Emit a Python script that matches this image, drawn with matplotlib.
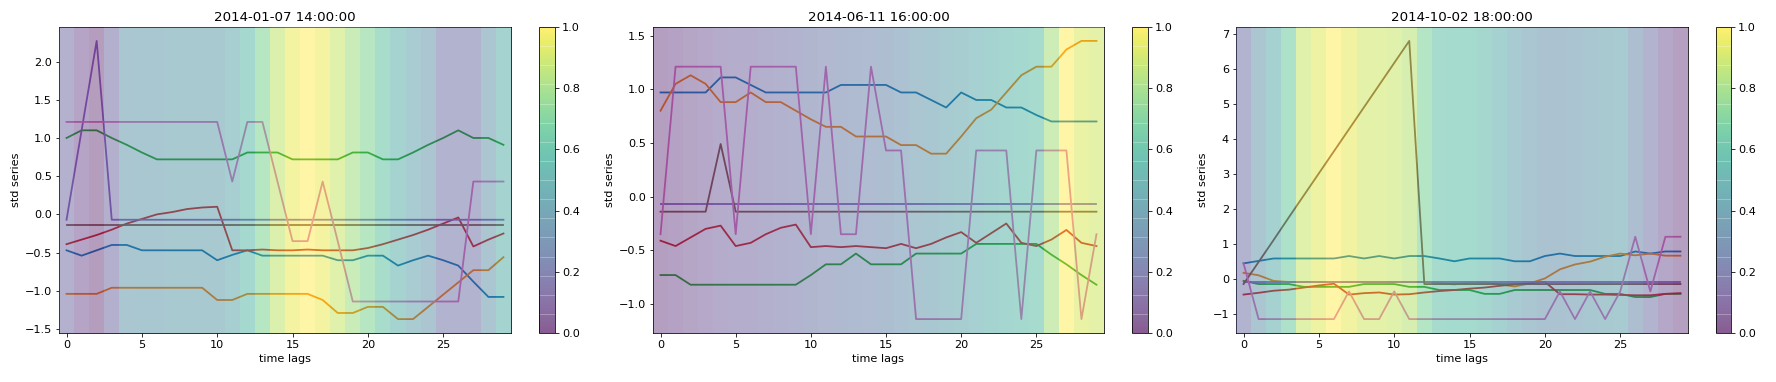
import numpy as np
import matplotlib.pyplot as plt

W, H = 1776, 382
DPI = 72

plt.rcParams['font.size'] = 11.2
plt.rcParams['lines.linewidth'] = 1.8

lags = list(range(30))
titles = ["2014-01-07 14:00:00", "2014-06-11 16:00:00", "2014-10-02 18:00:00"]

# --- panel 1: 2014-01-07 14:00 ---
blue1 = [-0.47, -0.54, -0.47, -0.40, -0.40, -0.47, -0.47, -0.47, -0.47, -0.47,
         -0.60, -0.53, -0.47, -0.54, -0.54, -0.54, -0.54, -0.54, -0.60, -0.60,
         -0.54, -0.54, -0.67, -0.60, -0.54, -0.60, -0.67, -0.88, -1.08, -1.08]
orange1 = [-1.04, -1.04, -1.04, -0.96, -0.96, -0.96, -0.96, -0.96, -0.96, -0.96,
           -1.12, -1.12, -1.04, -1.04, -1.04, -1.04, -1.04, -1.12, -1.29, -1.29,
           -1.21, -1.21, -1.37, -1.37, -1.21, -1.05, -0.89, -0.73, -0.73, -0.56]
green1 = [1.00, 1.10, 1.10, 1.00, 0.91, 0.81, 0.72, 0.72, 0.72, 0.72,
          0.72, 0.72, 0.81, 0.81, 0.81, 0.72, 0.72, 0.72, 0.72, 0.81,
          0.81, 0.72, 0.72, 0.81, 0.91, 1.00, 1.10, 1.00, 1.00, 0.91]
red1 = [-0.39, -0.33, -0.27, -0.20, -0.12, -0.06, 0.00, 0.03, 0.07, 0.09,
        0.10, -0.47, -0.47, -0.46, -0.47, -0.47, -0.46, -0.47, -0.47, -0.47,
        -0.44, -0.39, -0.33, -0.27, -0.20, -0.12, -0.04, -0.42, -0.33, -0.25]
purple1 = [-0.07, 1.10, 2.27, -0.07, -0.07, -0.07, -0.07, -0.07, -0.07, -0.07,
           -0.07, -0.07, -0.07, -0.07, -0.07, -0.07, -0.07, -0.07, -0.07, -0.07,
           -0.07, -0.07, -0.07, -0.07, -0.07, -0.07, -0.07, -0.07, -0.07, -0.07]
brown1 = [-0.14] * 30
pink1 = [1.21, 1.21, 1.21, 1.21, 1.21, 1.21, 1.21, 1.21, 1.21, 1.21,
         1.21, 0.43, 1.21, 1.21, 0.43, -0.35, -0.35, 0.43, -0.35, -1.14,
         -1.14, -1.14, -1.14, -1.14, -1.14, -1.14, -1.14, 0.43, 0.43, 0.43]
weights1 = [0.18, 0.08, 0.03, 0.17, 0.38, 0.39, 0.39, 0.40, 0.40, 0.40,
            0.41, 0.47, 0.57, 0.72, 0.87, 0.96, 1.00, 0.96, 0.88, 0.80,
            0.72, 0.62, 0.52, 0.44, 0.36, 0.21, 0.21, 0.21, 0.36, 0.52]

# --- panel 2: 2014-06-11 16:00 ---
blue2 = [0.97, 0.97, 0.97, 0.97, 1.11, 1.11, 1.04, 0.97, 0.97, 0.97,
         0.97, 0.97, 1.04, 1.04, 1.04, 1.04, 0.97, 0.97, 0.90, 0.83,
         0.97, 0.90, 0.90, 0.83, 0.83, 0.76, 0.70, 0.70, 0.70, 0.70]
orange2 = [0.80, 1.05, 1.13, 1.05, 0.88, 0.88, 0.97, 0.88, 0.88, 0.80,
           0.72, 0.65, 0.65, 0.56, 0.56, 0.56, 0.48, 0.48, 0.40, 0.40,
           0.56, 0.73, 0.81, 0.97, 1.13, 1.21, 1.21, 1.37, 1.45, 1.45]
green2 = [-0.73, -0.73, -0.82, -0.82, -0.82, -0.82, -0.82, -0.82, -0.82, -0.82,
          -0.73, -0.63, -0.63, -0.53, -0.63, -0.63, -0.63, -0.53, -0.53, -0.53,
          -0.53, -0.44, -0.44, -0.44, -0.44, -0.44, -0.54, -0.63, -0.73, -0.82]
red2 = [-0.41, -0.46, -0.38, -0.30, -0.27, -0.46, -0.43, -0.35, -0.29, -0.26,
        -0.47, -0.46, -0.47, -0.46, -0.47, -0.48, -0.44, -0.48, -0.44, -0.38,
        -0.33, -0.43, -0.34, -0.25, -0.43, -0.46, -0.40, -0.31, -0.43, -0.46]
purple2 = [-0.07] * 30
brown2 = [-0.14, -0.14, -0.14, -0.14, 0.49, -0.14, -0.14, -0.14, -0.14, -0.14,
          -0.14, -0.14, -0.14, -0.14, -0.14, -0.14, -0.14, -0.14, -0.14, -0.14,
          -0.14, -0.14, -0.14, -0.14, -0.14, -0.14, -0.14, -0.14, -0.14, -0.14]
pink2 = [-0.35, 1.21, 1.21, 1.21, 1.21, -0.35, 1.21, 1.21, 1.21, 1.21,
         -0.35, 1.21, -0.35, -0.35, 1.21, 0.43, 0.43, -1.14, -1.14, -1.14,
         -1.14, 0.43, 0.43, 0.43, -1.14, 0.43, 0.43, 0.43, -1.14, -0.35]
weights2 = [0.04, 0.06, 0.09, 0.11, 0.14, 0.15, 0.16, 0.17, 0.19, 0.20,
            0.22, 0.24, 0.26, 0.27, 0.28, 0.30, 0.33, 0.36, 0.39, 0.42,
            0.45, 0.48, 0.52, 0.54, 0.57, 0.60, 0.82, 1.00, 0.92, 0.90]

# --- panel 3: 2014-10-02 18:00 ---
blue3 = [0.45, 0.52, 0.59, 0.59, 0.59, 0.59, 0.59, 0.66, 0.59, 0.66,
         0.59, 0.66, 0.66, 0.59, 0.51, 0.59, 0.59, 0.59, 0.51, 0.51,
         0.66, 0.73, 0.66, 0.66, 0.66, 0.66, 0.79, 0.73, 0.79, 0.79]
orange3 = [0.18, 0.11, -0.05, -0.08, -0.08, -0.08, -0.08, -0.08, -0.08, -0.08,
           -0.08, -0.08, -0.08, -0.11, -0.15, -0.10, -0.10, -0.15, -0.21, -0.12,
           0.02, 0.28, 0.42, 0.50, 0.64, 0.73, 0.68, 0.73, 0.67, 0.67]
green3 = [-0.05, -0.14, -0.14, -0.14, -0.22, -0.22, -0.22, -0.22, -0.14, -0.14,
          -0.14, -0.22, -0.22, -0.31, -0.31, -0.31, -0.42, -0.42, -0.31, -0.31,
          -0.31, -0.31, -0.31, -0.31, -0.42, -0.42, -0.51, -0.51, -0.42, -0.42]
red3 = [-0.44, -0.39, -0.33, -0.30, -0.24, -0.18, -0.13, -0.44, -0.40, -0.38,
        -0.44, -0.43, -0.38, -0.34, -0.31, -0.27, -0.24, -0.19, -0.15, -0.12,
        -0.08, -0.43, -0.43, -0.44, -0.44, -0.45, -0.46, -0.46, -0.42, -0.40]
purple3 = [-0.07] * 30
brown3 = [-0.14, 0.49, 1.12, 1.76, 2.39, 3.02, 3.65, 4.28, 4.91, 5.54,
          6.17, 6.80, -0.14, -0.14, -0.14, -0.14, -0.14, -0.14, -0.14, -0.14,
          -0.14, -0.14, -0.14, -0.14, -0.14, -0.14, -0.14, -0.14, -0.14, -0.14]
pink3 = [0.45, -1.14, -1.14, -1.14, -1.14, -1.14, -1.14, -0.35, -1.14, -1.14,
         -0.35, -1.14, -1.14, -1.14, -1.14, -1.14, -1.14, -1.14, -1.14, -1.14,
         -1.14, -0.35, -1.14, -0.35, -1.14, -0.35, 1.21, -0.35, 1.21, 1.21]
weights3 = [0.20, 0.36, 0.50, 0.66, 0.88, 0.93, 1.00, 0.95, 0.90, 0.90,
            0.88, 0.85, 0.70, 0.60, 0.58, 0.58, 0.55, 0.50, 0.43, 0.38,
            0.35, 0.35, 0.37, 0.39, 0.41, 0.43, 0.30, 0.20, 0.10, 0.05]

panels = [
    (titles[0], [blue1, orange1, green1, red1, purple1, brown1, pink1], weights1),
    (titles[1], [blue2, orange2, green2, red2, purple2, brown2, pink2], weights2),
    (titles[2], [blue3, orange3, green3, red3, purple3, brown3, pink3], weights3),
]

# pixel layout (left, right) of each axes and colorbar
ax_x = [(59, 511), (653, 1104), (1236, 1688)]
cb_x = [(539, 555), (1132, 1148), (1716, 1731)]
top_px, bot_px = 27, 333

fig = plt.figure(figsize=(W / DPI, H / DPI), dpi=DPI)


def rect(x0, x1):
    return [x0 / W, (H - bot_px) / H, (x1 - x0) / W, (bot_px - top_px) / H]


for (title, series, weights), (a0, a1), (c0, c1) in zip(panels, ax_x, cb_x):
    ax = fig.add_axes(rect(a0, a1))
    for s in series:
        ax.plot(lags, s)
    ylo, yhi = ax.get_ylim()
    im = ax.imshow(np.array([weights]), cmap='viridis', vmin=0, vmax=1,
                   alpha=0.4, aspect='auto', interpolation='nearest',
                   extent=(-0.5, len(lags) - 0.5, ylo, yhi), zorder=3)
    ax.set_title(title, fontsize=13.4)
    ax.set_xlabel('time lags')
    ax.set_ylabel('std series')

    cax = fig.add_axes(rect(c0, c1))
    cb = fig.colorbar(im, cax=cax)
    cb.solids.set_alpha(0.64)
    for t in np.linspace(0, 1, 17)[1:-1]:
        cax.axhline(t, color='white', lw=0.8, alpha=0.35)

fig.savefig('out.png', dpi=DPI)
